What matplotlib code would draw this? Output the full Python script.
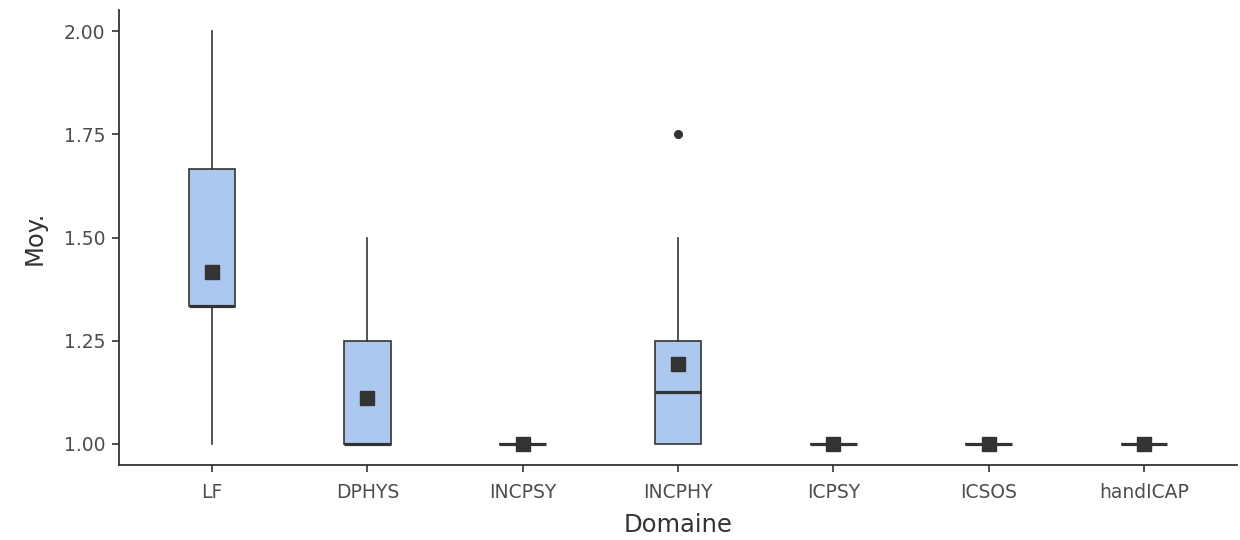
import matplotlib
matplotlib.use("Agg")
import matplotlib.pyplot as plt

plt.rcParams['font.family'] = ['DejaVu Sans']

domaines = ["LF", "DPHYS", "INCPSY", "INCPHY", "ICPSY", "ICSOS", "handICAP"]
whisker_low = [1.00, 1.00, 1.00, 1.00, 1.00, 1.00, 1.00]
q1 = [1.333, 1.00, 1.00, 1.00, 1.00, 1.00, 1.00]
medians = [1.333, 1.00, 1.00, 1.125, 1.00, 1.00, 1.00]
q3 = [1.667, 1.25, 1.00, 1.25, 1.00, 1.00, 1.00]
whisker_high = [2.00, 1.50, 1.00, 1.50, 1.00, 1.00, 1.00]
means = [1.416, 1.111, 1.00, 1.194, 1.00, 1.00, 1.00]
outliers = [[], [], [], [1.75], [], [], []]

stats = []
for i, name in enumerate(domaines):
    stats.append(dict(label=name, whislo=whisker_low[i], q1=q1[i], med=medians[i],
                      q3=q3[i], whishi=whisker_high[i], mean=means[i],
                      fliers=outliers[i]))

edge = "#333333"
fig = plt.figure(figsize=(12.4, 5.4), dpi=100)
ax = fig.add_axes([119 / 1240, 75 / 540, 1118 / 1240, 455 / 540])

positions = list(range(1, len(domaines) + 1))
ax.bxp(stats, positions=positions, widths=0.3, patch_artist=True,
       showmeans=True, showcaps=False,
       boxprops=dict(facecolor="#adc8ef", edgecolor=edge, linewidth=1.2),
       medianprops=dict(color=edge, linewidth=2.3, solid_capstyle="butt"),
       whiskerprops=dict(color=edge, linewidth=1.2),
       flierprops=dict(marker="o", markerfacecolor=edge, markeredgecolor=edge,
                       markersize=5.5),
       meanprops=dict(marker="s", markerfacecolor=edge, markeredgecolor=edge,
                      markersize=10.5))

ax.set_xlim(0.4, len(domaines) + 0.6)
ax.set_ylim(0.949, 2.051)
ax.set_yticks([1.00, 1.25, 1.50, 1.75, 2.00])
ax.set_yticklabels(["1.00", "1.25", "1.50", "1.75", "2.00"])
ax.set_xticks(positions)
ax.set_xticklabels(domaines)

for side in ["top", "right"]:
    ax.spines[side].set_visible(False)
for side in ["left", "bottom"]:
    ax.spines[side].set_color(edge)
    ax.spines[side].set_linewidth(1.3)

ax.tick_params(axis="both", colors=edge, length=5, width=1.2,
               labelsize=13.5, labelcolor="#4d4d4d")
ax.tick_params(axis="x", pad=8)
ax.tick_params(axis="y", pad=5)
ax.set_xlabel("Domaine", fontsize=17.5, color="#333333", labelpad=8)
ax.set_ylabel("Moy.", fontsize=17.5, color="#333333", labelpad=12)

fig.savefig("out.png", dpi=100, facecolor="white")
